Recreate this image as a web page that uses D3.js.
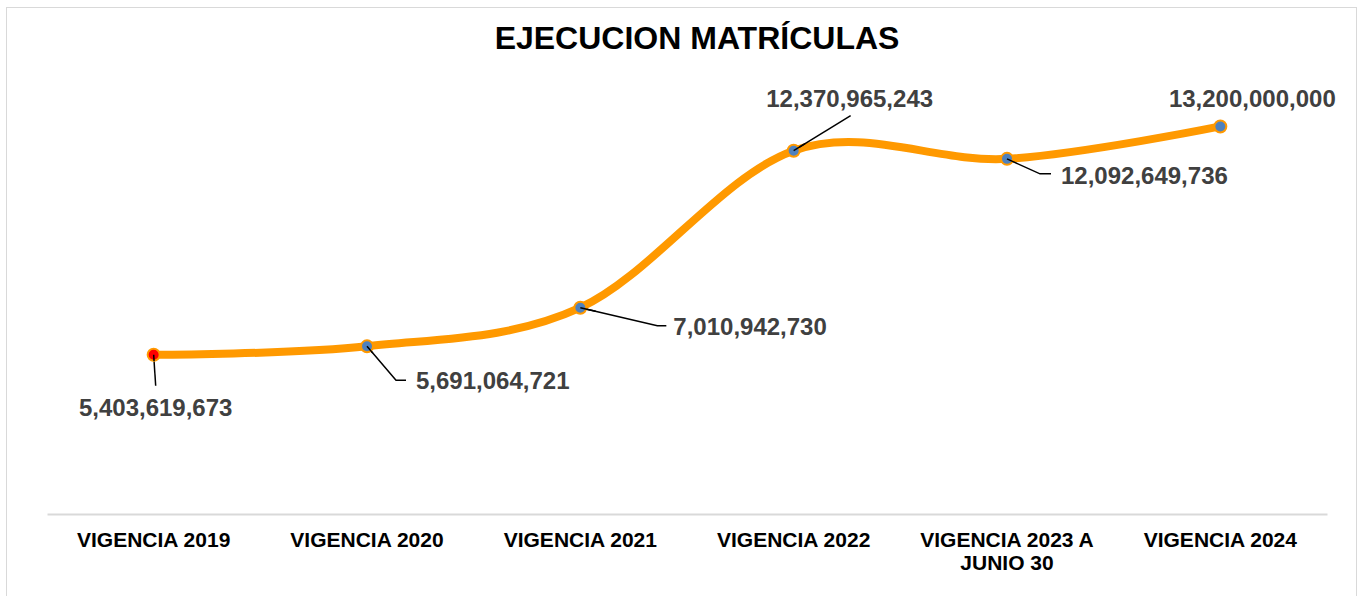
<!DOCTYPE html>
<html>
<head>
<meta charset="utf-8">
<script src="https://cdn.jsdelivr.net/npm/d3@7"></script>
<style>
  body { margin: 0; background: #fff; }
  svg { display: block; font-family: "Liberation Sans", Arial, sans-serif; }
</style>
</head>
<body>
<div id="chart"></div>
<script>
//////////////////// data ///////////////////
const categories = [
    "VIGENCIA 2019",
    "VIGENCIA 2020",
    "VIGENCIA 2021",
    "VIGENCIA 2022",
    "VIGENCIA 2023 A JUNIO 30",
    "VIGENCIA 2024"
];
const values = [5403619673, 5691064721, 7010942730, 12370965243, 12092649736, 13200000000];
// where each data label sits relative to its point (dx, dy, anchor, has leader)
const labelPos = [
    { dx: 2, dy: 61, anchor: "middle", leader: [[2, 31]] },
    { dx: 49, dy: 43, anchor: "start", leader: [[29, 34], [39, 34]] },
    { dx: 93, dy: 27, anchor: "start", leader: [[77, 18], [86, 18]] },
    { dx: 56, dy: -44, anchor: "middle", leader: [[57, -35]] },
    { dx: 54, dy: 25, anchor: "start", leader: [[33, 15], [44, 15]] },
    { dx: 32, dy: -19, anchor: "middle", leader: null }
];

const W = 1360, H = 596;
const svg = d3.select("#chart").append("svg").attr("width", W).attr("height", H);

// outer chart border
svg.append("rect")
    .attr("x", 6.5).attr("y", 7.5)
    .attr("width", 1350).attr("height", 600)
    .attr("fill", "#fff").attr("stroke", "#d9d9d9").attr("stroke-width", 1);

// title
svg.append("text")
    .attr("x", 697).attr("y", 49)
    .attr("text-anchor", "middle")
    .style("font-size", "32px").style("font-weight", "bold").style("fill", "#000")
    .text("EJECUCION MATRÍCULAS");

//scales
const x = d3.scaleBand().domain(categories).range([47, 1327]);
const y = d3.scaleLinear().domain([0, 14e9]).range([513, 103]);

//x axis
const xAxis = d3.axisBottom(x).tickSize(0).tickPadding(18);
const gx = svg.append("g").attr("transform", "translate(0,514)").call(xAxis);
gx.select(".domain").attr("stroke", "#d9d9d9").attr("stroke-width", 2);
gx.selectAll("text")
    .style("font-size", "21px").style("font-weight", "bold").style("fill", "#000")
    .attr("font-family", null)
    .each(function (d) {
        const t = d3.select(this);
        if (d.length > 16) {
            const words = ["VIGENCIA 2023 A", "JUNIO 30"];
            t.text(null);
            words.forEach((w, i) => {
                t.append("tspan").attr("x", 0).attr("dy", i === 0 ? "0.71em" : "1.12em").text(w);
            });
            t.attr("dy", null);
        }
    });

const pts = categories.map((c, i) => ({ x: x(c) + x.bandwidth() / 2, y: y(values[i]), v: values[i], i }));

// smoothed line
const line = d3.line().x(d => d.x).y(d => d.y).curve(d3.curveCardinal.tension(0));
svg.append("path")
    .datum(pts)
    .attr("d", line)
    .attr("fill", "none")
    .attr("stroke", "#ff9900")
    .attr("stroke-width", 8)
    .attr("stroke-linecap", "round");

// leader lines
svg.selectAll(".leader")
    .data(pts.filter(d => labelPos[d.i].leader))
    .enter().append("polyline")
    .attr("class", "leader")
    .attr("points", d => [[0, 0]].concat(labelPos[d.i].leader).map(p => (d.x + p[0]) + "," + (d.y + p[1])).join(" "))
    .attr("fill", "none").attr("stroke", "#000").attr("stroke-width", 1.5);

// markers
svg.selectAll(".dot")
    .data(pts)
    .enter().append("circle")
    .attr("class", "dot")
    .attr("cx", d => d.x).attr("cy", d => d.y)
    .attr("r", 6)
    .attr("fill", d => d.i === 0 ? "#ff0000" : "#4f81bd")
    .attr("stroke", "#ff9900").attr("stroke-width", 2);

// leader ends over markers
svg.selectAll(".leaderTop")
    .data(pts.filter(d => labelPos[d.i].leader))
    .enter().append("line")
    .attr("x1", d => d.x).attr("y1", d => d.y)
    .attr("x2", d => d.x + labelPos[d.i].leader[0][0] * 0.2)
    .attr("y2", d => d.y + labelPos[d.i].leader[0][1] * 0.2)
    .attr("stroke", "#000").attr("stroke-width", 1.5);

// data labels
const fmt = d3.format(",");
svg.selectAll(".lbl")
    .data(pts)
    .enter().append("text")
    .attr("class", "lbl")
    .attr("x", d => d.x + labelPos[d.i].dx)
    .attr("y", d => d.y + labelPos[d.i].dy)
    .attr("text-anchor", d => labelPos[d.i].anchor)
    .style("font-size", "24px").style("font-weight", "bold").style("fill", "#404040")
    .text(d => fmt(d.v));
</script>
</body>
</html>
